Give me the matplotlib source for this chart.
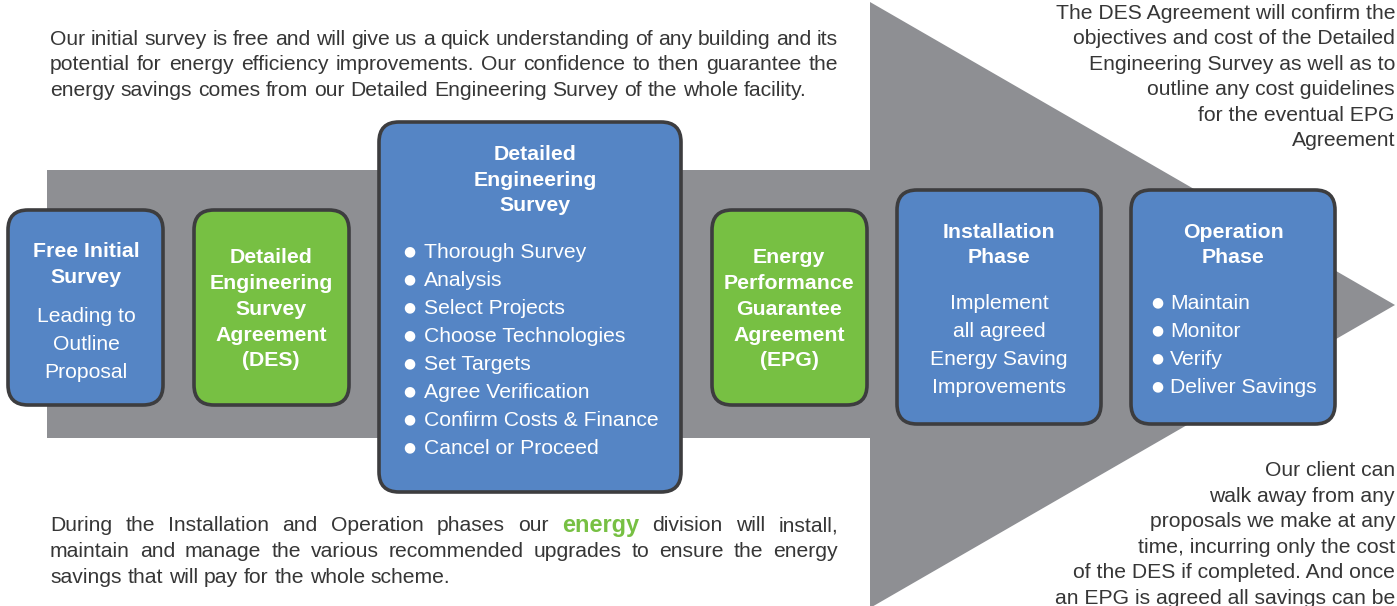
import matplotlib
matplotlib.use("Agg")
import matplotlib.pyplot as plt
from matplotlib.patches import FancyBboxPatch, Polygon

W, H = 1397, 606
GRAY = "#8e8f93"
BLUE = "#5585c5"
GREEN = "#77c043"
EDGE = "#3d3d3f"
TXT = "#363636"
FONT = "Liberation Sans"
FS = 15.25
FSB = 15.3
DY = 1.5

top_lines = ["Our initial survey is free and will give us a quick understanding of any building and its",
             "potential for energy efficiency improvements. Our confidence to then guarantee the",
             "energy savings comes from our Detailed Engineering Survey of the whole facility."]
bottom_lines = [["During", "the", "Installation", "and", "Operation", "phases", "our", "energy", "division", "will", "install,"],
                ["maintain", "and", "manage", "the", "various", "recommended", "upgrades", "to", "ensure", "the", "energy"],
                ["savings", "that", "will", "pay", "for", "the", "whole", "scheme."]]
right_top = ["The DES Agreement will confirm the", "objectives and cost of the Detailed",
             "Engineering Survey as well as to", "outline any cost guidelines",
             "for the eventual EPG", "Agreement"]
right_bottom = ["Our client can", "walk away from any", "proposals we make at any",
                "time, incurring only the cost", "of the DES if completed. And once",
                "an EPG is agreed all savings can be"]

box1_title = ["Free Initial", "Survey"]
box1_body = ["Leading to", "Outline", "Proposal"]
box2_title = ["Detailed", "Engineering", "Survey", "Agreement", "(DES)"]
box3_title = ["Detailed", "Engineering", "Survey"]
box3_items = ["Thorough Survey", "Analysis", "Select Projects", "Choose Technologies",
              "Set Targets", "Agree Verification", "Confirm Costs & Finance", "Cancel or Proceed"]
box4_title = ["Energy", "Performance", "Guarantee", "Agreement", "(EPG)"]
box5_title = ["Installation", "Phase"]
box5_body = ["Implement", "all agreed", "Energy Saving", "Improvements"]
box6_title = ["Operation", "Phase"]
box6_items = ["Maintain", "Monitor", "Verify", "Deliver Savings"]

fig = plt.figure(figsize=(W / 100, H / 100), dpi=100)
ax = fig.add_axes([0, 0, 1, 1])
ax.set_xlim(0, W)
ax.set_ylim(H, 0)
ax.axis("off")

# big arrow
arrow = Polygon([(47, 170), (870, 170), (870, 2), (1395, 305), (870, 608), (870, 438), (47, 438)],
                closed=True, facecolor=GRAY, edgecolor="none", zorder=1)
ax.add_patch(arrow)


def box(x0, y0, x1, y1, color):
    p = FancyBboxPatch((x0, y0), x1 - x0, y1 - y0, boxstyle="round,pad=0,rounding_size=20",
                       facecolor=color, edgecolor=EDGE, linewidth=2.6, zorder=2)
    ax.add_patch(p)


def lines(xc, ys, texts, bold=False, size=FS, color="white", ha="center"):
    for y, t in zip(ys, texts):
        ax.text(xc, y + DY, t, ha=ha, va="center", fontsize=FSB if bold else size, color=color,
                family=FONT, fontweight="bold" if bold else "normal", zorder=3)


def bullets(xb, xt, ys, texts, size=FS):
    for y, t in zip(ys, texts):
        ax.text(xb, y, "\u25cf", ha="center", va="center", fontsize=10, color="white",
                family="DejaVu Sans", zorder=3)
        ax.text(xt, y + DY, t, ha="left", va="center", fontsize=size, color="white", family=FONT, zorder=3)


box(8, 210, 163, 405, BLUE)
lines(86, [250, 276], box1_title, bold=True)
lines(86, [315, 343, 371], box1_body)

box(194, 210, 349, 405, GREEN)
lines(271, [256, 282, 308, 334, 359], box2_title, bold=True)

box(379, 122, 681, 492, BLUE)
lines(535, [153, 179, 204], box3_title, bold=True)
bullets(409, 424, [251 + 28 * i for i in range(8)], box3_items)

box(712, 210, 867, 405, GREEN)
lines(789, [256, 282, 308, 334, 359], box4_title, bold=True)

box(897, 190, 1101, 424, BLUE)
lines(999, [231, 256], box5_title, bold=True)
lines(999, [302, 330, 358, 386], box5_body)

box(1131, 190, 1335, 424, BLUE)
lines(1233, [231, 256], box6_title, bold=True)
bullets(1157, 1170, [302, 330, 358, 386], box6_items)

# right texts
lines(1395, [12 + 25.4 * i for i in range(6)], right_top, color=TXT, ha="right")
lines(1395, [469 + 25.6 * i for i in range(6)], right_bottom, color=TXT, ha="right")

# justified paragraphs
fig.canvas.draw()
renderer = fig.canvas.get_renderer()


def width_of(t):
    return t.get_window_extent(renderer=renderer).width


def justified(words, y, x0, x1, justify=True, special=None):
    objs = []
    for w in words:
        if special and w == special:
            t = ax.text(0, y + DY, w, ha="left", va="center", fontsize=16.9, fontweight="bold",
                        color=GREEN, family=FONT, zorder=3)
        else:
            t = ax.text(0, y + DY, w, ha="left", va="center", fontsize=FS, color=TXT,
                        family=FONT, zorder=3)
        objs.append(t)
    widths = [width_of(t) for t in objs]
    total = sum(widths)
    if justify and len(words) > 1:
        gap = (x1 - x0 - total) / (len(words) - 1)
    else:
        sp = ax.text(0, 0, "a a", fontsize=FS, family=FONT)
        sp2 = ax.text(0, 0, "aa", fontsize=FS, family=FONT)
        gap = width_of(sp) - width_of(sp2)
        sp.remove(); sp2.remove()
    x = x0
    for t, w in zip(objs, widths):
        t.set_x(x)
        x += w + gap


top_words = [l.split() for l in top_lines]
justified(top_words[0], 38, 50, 838)
justified(top_words[1], 63, 50, 838)
justified(top_words[2], 89, 50, 838, justify=False)

justified(bottom_lines[0], 524, 50, 838, special="energy")
justified(bottom_lines[1], 550, 50, 838)
justified(bottom_lines[2], 576, 50, 838, justify=False)

fig.savefig("out.png", dpi=100)
